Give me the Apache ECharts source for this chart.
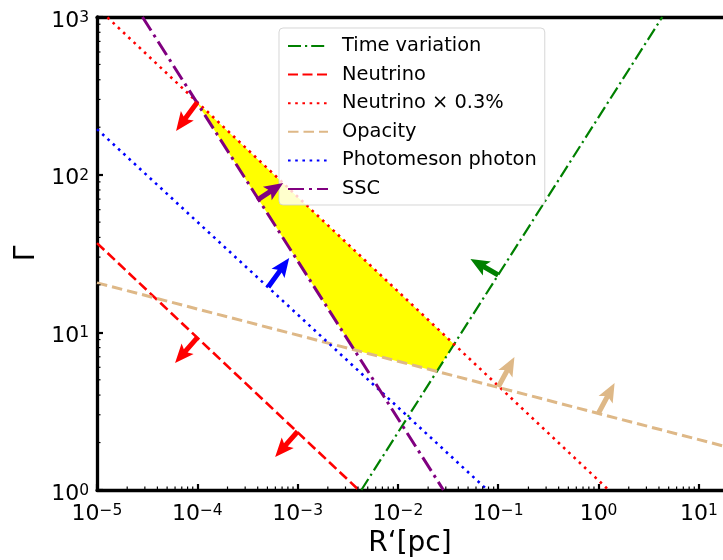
<!DOCTYPE html>
<html><head><meta charset="utf-8">
<script src="https://cdn.jsdelivr.net/npm/echarts@6/dist/echarts.min.js"></script>
<style>html,body{margin:0;padding:0;background:#fff}#c{width:723px;height:560px}</style>
</head><body><div id="c"></div>
<script>
// ---- tick data ----
const xTickExps = [-5, -4, -3, -2, -1, 0, 1];
const yTickExps = [0, 1, 2, 3];
const xMinorTicks = [2e-5,3e-5,4e-5,5e-5,6e-5,7e-5,8e-5,9e-5,
  2e-4,3e-4,4e-4,5e-4,6e-4,7e-4,8e-4,9e-4,
  2e-3,3e-3,4e-3,5e-3,6e-3,7e-3,8e-3,9e-3,
  0.02,0.03,0.04,0.05,0.06,0.07,0.08,0.09,
  0.2,0.3,0.4,0.5,0.6,0.7,0.8,0.9,
  2,3,4,5,6,7,8,9];
const yMinorTicks = [2,3,4,5,6,7,8,9,20,30,40,50,60,70,80,90,200,300,400,500,600,700,800,900];

// ---- series data [R', Gamma] ----
const timeVariation = [[4.32e-3, 1], [4.32, 1000]];
const neutrino = [[1e-5, 36.8], [4.07e-3, 1]];
const neutrino03 = [[1e-5, 1148], [1.26, 1]];
const opacity = [[1e-5, 20.6], [20, 1.86]];
const photomeson = [[1e-5, 194.5], [0.078, 1]];
const ssc = [[2.84e-5, 1000], [0.0284, 1]];

// allowed region (yellow) vertices
const allowedRegion = [[9.7e-5, 292], [0.0363, 8.4], [0.0244, 5.65], [3.68e-3, 7.73]];

// arrows: [tailR, tailG, tipR, tipG]
const neutrinoArrows = [[1e-4, 9.25, 6.0e-5, 6.39], [1e-3, 2.35, 5.97e-4, 1.62]];
const neutrino03Arrows = [[1e-4, 288, 6.14e-5, 189]];
const sscArrows = [[3.95e-4, 69, 7.18e-4, 88.5]];
const photomesonArrows = [[5.09e-4, 19.4, 8.24e-4, 29.6]];
const timeArrows = [[0.1, 23.1, 0.0528, 29.2]];
const opacityArrows = [[0.1, 4.5, 0.145, 6.97], [1.0, 3.08, 1.445, 4.77]];

const FONT = 'DejaVu Sans';
function powLabel(exps) {
  return function (v) {
    const l = Math.log10(v), e = Math.round(l);
    if (Math.abs(l - e) > 1e-3 || exps.indexOf(e) < 0) return '';
    return '{b|10}{s|' + (e < 0 ? '\u2212' : '') + Math.abs(e) + '}';
  };
}
const rich = {
  b: {fontSize: 22, fontFamily: FONT, color: '#000', lineHeight: 22, verticalAlign: 'bottom'},
  s: {fontSize: 15.5, fontFamily: FONT, color: '#000', lineHeight: 10, verticalAlign: 'top'}
};

function lineSeries(name, data, color, width, dash) {
  return {type: 'line', name: name, data: data, symbol: 'none', showSymbol: false, silent: true,
    lineStyle: {color: color, width: width, type: dash, cap: 'butt'}, itemStyle: {color: color}, z: 3};
}
function arrowSeries(name, data, color) {
  return {type: 'custom', name: name, data: data, z: 5, silent: true,
    encode: {x: [0, 2], y: [1, 3]},
    renderItem: function (params, api) {
      const p0 = api.coord([api.value(0), api.value(1)]);
      const p1 = api.coord([api.value(2), api.value(3)]);
      const dx = p1[0] - p0[0], dy = p1[1] - p0[1];
      const L = Math.sqrt(dx * dx + dy * dy);
      const ux = dx / L, uy = dy / L, nx = -uy, ny = ux;
      const hl = 19, hw = 8, sw = 2.5;
      const at = (t, s) => [p0[0] + ux * t + nx * s, p0[1] + uy * t + ny * s];
      const pts = [at(0, sw), at(L - hl * 0.85, sw), at(L - hl, hw), [p1[0], p1[1]],
        at(L - hl, -hw), at(L - hl * 0.85, -sw), at(0, -sw)];
      return {type: 'polygon', shape: {points: pts}, style: {fill: color}};
    }};
}
function minorTickSeries(name, data, horizontal) {
  return {type: 'custom', name: name, silent: true, z: 6,
    data: data.map(v => horizontal ? [v, 1] : [1e-5, v]),
    renderItem: function (params, api) {
      const p = api.coord([api.value(0), api.value(1)]);
      const shape = horizontal ? {x1: p[0], y1: p[1], x2: p[0], y2: p[1] - 3.5}
                               : {x1: p[0], y1: p[1], x2: p[0] + 3.5, y2: p[1]};
      return {type: 'line', shape: shape, style: {stroke: '#000', lineWidth: 1.2}};
    }};
}

const chart = echarts.init(document.getElementById('c'), null, {renderer: 'canvas'});
chart.setOption({
  animation: false,
  backgroundColor: '#fff',
  grid: {left: 97, right: 0, top: 17, bottom: 70, containLabel: false, outerBoundsMode: 'none'},
  legend: {
    orient: 'vertical', left: 279, top: 28, padding: [8, 8, 6, 8],
    itemWidth: 40, itemHeight: 14, itemGap: 8.6,
    backgroundColor: 'rgba(255,255,255,0.8)', borderColor: 'rgba(204,204,204,0.8)',
    borderWidth: 1, borderRadius: 4,
    itemStyle: {opacity: 0},
    textStyle: {fontSize: 19.4, fontFamily: FONT, color: '#000', lineHeight: 20, padding: [0, 0, 0, 9]},
    data: ['Time variation', 'Neutrino', 'Neutrino \u00d7 0.3%', 'Opacity', 'Photomeson photon', 'SSC'],
    selectedMode: false
  },
  xAxis: [{
    type: 'log', logBase: 10, min: 1e-5, max: 17.4,
    name: 'R\u2018[pc]', nameLocation: 'middle', nameGap: 40,
    nameTextStyle: {fontSize: 28, fontFamily: FONT, color: '#000'},
    axisLine: {show: true, lineStyle: {color: '#000', width: 3.3}},
    axisTick: {show: true, inside: true, length: 6, lineStyle: {color: '#000', width: 2.2}},
    axisLabel: {show: true, margin: 13, showMaxLabel: false, showMinLabel: true, formatter: powLabel(xTickExps), rich: rich},
    splitLine: {show: false}, minorTick: {show: false}
  }, {
    type: 'log', logBase: 10, min: 1e-5, max: 17.4, position: 'top',
    axisLine: {show: true, lineStyle: {color: '#000', width: 3.3}},
    axisTick: {show: false}, axisLabel: {show: false}, splitLine: {show: false}
  }],
  yAxis: [{
    type: 'log', logBase: 10, min: 1, max: 1000,
    name: '\u0393', nameLocation: 'middle', nameGap: 56, nameRotate: 90,
    nameTextStyle: {fontSize: 28, fontFamily: FONT, color: '#000'},
    axisLine: {show: true, lineStyle: {color: '#000', width: 3.3}},
    axisTick: {show: true, inside: true, length: 6, lineStyle: {color: '#000', width: 2.2}},
    axisLabel: {show: true, margin: 8, padding: [8, 0, 0, 0], showMaxLabel: true, showMinLabel: true, formatter: powLabel(yTickExps), rich: rich},
    splitLine: {show: false}, minorTick: {show: false}
  }],
  series: [
    {type: 'custom', name: 'allowed', silent: true, z: 1, data: allowedRegion,
      renderItem: function (params, api) {
        if (params.dataIndex !== 0) return null;
        const pts = allowedRegion.map(p => api.coord(p));
        return {type: 'polygon', shape: {points: pts}, style: {fill: '#ffff00'}};
      }},
    lineSeries('Time variation', timeVariation, '#008000', 2.2, [13, 4, 2.2, 4]),
    lineSeries('Neutrino', neutrino, '#ff0000', 2.6, [10, 4.5]),
    lineSeries('Neutrino \u00d7 0.3%', neutrino03, '#ff0000', 2.6, [2.6, 4.6]),
    lineSeries('Opacity', opacity, '#deb887', 3, [10.5, 5]),
    lineSeries('Photomeson photon', photomeson, '#0000ff', 2.6, [2.6, 4.6]),
    lineSeries('SSC', ssc, '#800080', 3, [16, 5, 3, 5]),
    arrowSeries('a-neutrino', neutrinoArrows, '#ff0000'),
    arrowSeries('a-neutrino03', neutrino03Arrows, '#ff0000'),
    arrowSeries('a-ssc', sscArrows, '#800080'),
    arrowSeries('a-photomeson', photomesonArrows, '#0000ff'),
    arrowSeries('a-time', timeArrows, '#008000'),
    arrowSeries('a-opacity', opacityArrows, '#deb887'),
    minorTickSeries('mx', xMinorTicks, true),
    minorTickSeries('my', yMinorTicks, false)
  ]
});
</script></body></html>
